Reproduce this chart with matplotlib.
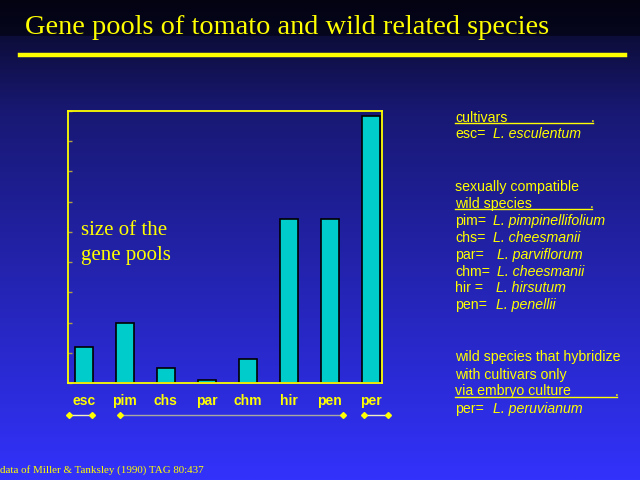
import numpy as np
import matplotlib
matplotlib.use("Agg")
import matplotlib.pyplot as plt
import matplotlib.transforms as mtransforms

categories = ["esc", "pim", "chs", "par", "chm", "hir", "pen", "per"]
gene_pool_size = [1.19, 2.0, 0.51, 0.11, 0.81, 5.41, 5.41, 8.82]
groups = [(-0.37, 0.20), (0.88, 6.33), (6.85, 7.43)]

YEL = "#ffff00"
fig = plt.figure(figsize=(6.4, 4.8), dpi=100)

# background gradient
bg = fig.add_axes([0, 0, 1, 1])
bg.set_axis_off()
ys = np.array([0, 35, 36, 110, 480]) / 480.0
cols = np.array([[3, 3, 18], [6, 6, 30], [13, 13, 58], [24, 24, 115], [50, 50, 252]]) / 255.0
yy = np.linspace(0, 1, 480)
grad = np.stack([np.interp(yy, ys, cols[:, i]) for i in range(3)], axis=1)
img = np.repeat(grad[:, None, :], 2, axis=1)
bg.imshow(img, aspect="auto", extent=[0, 1, 1, 0], interpolation="bilinear")
bg.set_xlim(0, 1)
bg.set_ylim(1, 0)

# title and rule
fig.text(25 / 640, 1 - 28 / 480, "Gene pools of tomato and wild related species",
         family="Liberation Serif", color=YEL, fontsize=20.4, va="center", ha="left")
fig.add_artist(plt.Line2D([20 / 640, 625 / 640], [1 - 55 / 480] * 2, color=YEL, lw=3.2,
                          transform=fig.transFigure))

ax = fig.add_axes([68 / 640, 97 / 480, 314 / 640, 272 / 480])
ax.patch.set_alpha(0)
x = np.arange(len(categories))
ax.bar(x, gene_pool_size, width=0.44, color="#00cccc", edgecolor="black", linewidth=1.2)
ax.set_xlim(-0.39, 7.28)
ax.set_ylim(0, 9)
ax.set_yticks(np.arange(0, 10))
ax.set_yticklabels([])
ax.tick_params(axis="y", direction="in", length=3, color="#b0a040", width=1)
ax.set_xticks(x)
ax.set_xticklabels(categories, color=YEL, fontsize=10, fontweight="bold", family="Liberation Sans")
ax.tick_params(axis="x", length=0, pad=8)
for s in ax.spines.values():
    s.set_color(YEL)
    s.set_linewidth(1.3)

ax.text(0.04, 0.515, "size of the\ngene pools", transform=ax.transAxes, family="Liberation Serif",
        color=YEL, fontsize=15, va="center", ha="left", linespacing=1.45)

tr = mtransforms.blended_transform_factory(ax.transData, ax.transAxes)
for i, (a, b) in enumerate(groups):
    ax.plot([a, b], [-0.118, -0.118], color="#a8a8a0" if i == 1 else "#f0f0c0", lw=1,
            transform=tr, clip_on=False)
    ax.plot([a, b], [-0.118, -0.118], ls="none", marker="D", ms=3, color=YEL,
            transform=tr, clip_on=False)

# right-hand legend text (y = baseline in pixels from top)
FS = 10.2

def t(xp, yp, s, italic=False):
    fig.text(xp / 640, 1 - yp / 480, s, family="Liberation Sans", color=YEL, fontsize=FS,
             style="italic" if italic else "normal", va="baseline", ha="left")

def ul(x0, x1, yp):
    fig.add_artist(plt.Line2D([x0 / 640, x1 / 640], [1 - (yp + 1.8) / 480] * 2, color=YEL, lw=1,
                              transform=fig.transFigure))
    fig.text((x1 - 2.5) / 640, 1 - yp / 480, ".", family="Liberation Sans", color=YEL,
             fontsize=FS, ha="left", va="baseline")

t(455, 121.5, "cultivars"); ul(455, 593, 121.5)
t(455, 138.3, "esc="); t(493, 138.3, "L. esculentum", True)
t(455, 190.5, "sexually compatible")
t(455, 207.5, "wild species"); ul(455, 592, 207.5)
rows = [("pim=", 493, "L. pimpinellifolium"), ("chs=", 493, "L. cheesmanii"),
        ("par=", 497, "L. parviflorum"), ("chm=", 497, "L. cheesmanii"),
        ("hir =", 496, "L. hirsutum"), ("pen=", 496, "L. penellii")]
for i, (a, xi, b) in enumerate(rows):
    yp = 224.5 + 17 * i
    t(455, yp, a); t(xi, yp, b, True)
t(455, 361.5, "wild species that hybridize")
t(455, 378.5, "with cultivars only")
t(455, 395.5, "via embryo culture"); ul(455, 617, 395.5)
t(455, 412.5, "per="); t(493, 412.5, "L. peruvianum", True)

fig.text(0, 1 - 470 / 480, "data of Miller & Tanksley (1990) TAG 80:437", family="Liberation Serif",
         color=YEL, fontsize=7.9, va="center", ha="left")

fig.savefig("out.png", dpi=100)
